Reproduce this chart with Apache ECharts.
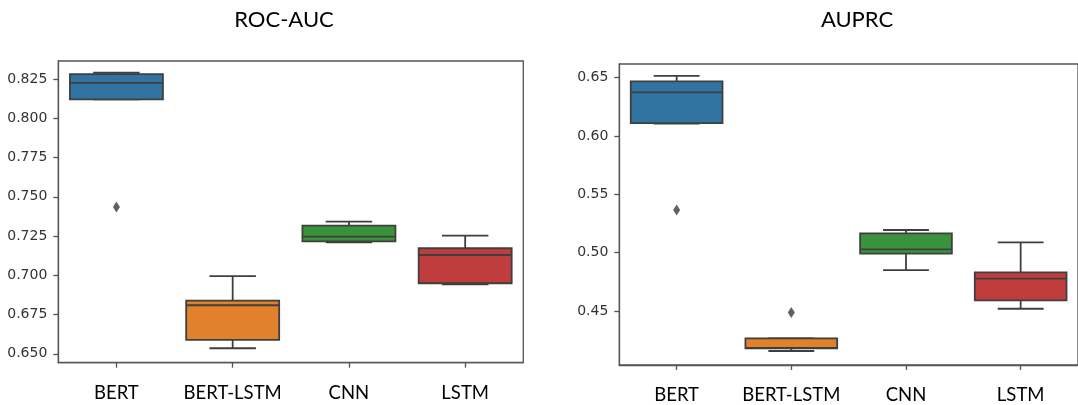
<!DOCTYPE html>
<html>
<head>
<meta charset="utf-8">
<script src="https://cdn.jsdelivr.net/npm/echarts@6/dist/echarts.min.js"></script>
<style>
html,body{margin:0;padding:0;background:#fff;}
#chart{width:1078px;height:405px;}
</style>
</head>
<body>
<div id="chart"></div>
<script>
// ---- data ----
const categories = ['BERT', 'BERT-LSTM', 'CNN', 'LSTM'];
// [min, Q1, median, Q3, max]
const rocAucBERT = [0.8121, 0.8121, 0.8226, 0.8282, 0.8290];
const rocAucBERTLSTM = [0.6535, 0.6588, 0.6809, 0.6838, 0.6995];
const rocAucCNN = [0.7210, 0.7216, 0.7246, 0.7316, 0.7342];
const rocAucLSTM = [0.6942, 0.6949, 0.7129, 0.7172, 0.7252];
const rocAucOutliers = [['BERT', 0.7435]];
const auprcBERT = [0.6105, 0.6110, 0.6373, 0.6467, 0.6515];
const auprcBERTLSTM = [0.4156, 0.4178, 0.4183, 0.4265, 0.4265];
const auprcCNN = [0.4850, 0.4990, 0.5027, 0.5165, 0.5193];
const auprcLSTM = [0.4518, 0.4590, 0.4776, 0.4830, 0.5087];
const auprcOutliers = [['BERT', 0.5364], ['BERT-LSTM', 0.4487]];
const rocAucTicks = [0.650, 0.675, 0.700, 0.725, 0.750, 0.775, 0.800, 0.825];
const auprcTicks = [0.45, 0.50, 0.55, 0.60, 0.65];
const titles = ['ROC-AUC', 'AUPRC'];
const boxColors = ['#3274a1', '#e1812c', '#3a923a', '#c03d3e'];

const rocAucStats = [rocAucBERT, rocAucBERTLSTM, rocAucCNN, rocAucLSTM];
const auprcStats = [auprcBERT, auprcBERTLSTM, auprcCNN, auprcLSTM];

const edge = '#3f3f3f';
const lw = 1.8;

function toRows(stats) {
  return stats.map((s, i) => [i].concat(s));
}

function renderBox(params, api) {
  const ci = api.value(0);
  const mn = api.value(1), q1 = api.value(2), md = api.value(3), q3 = api.value(4), mx = api.value(5);
  const band = api.size([1, 0])[0];
  const bw = band * 0.8, cw = bw / 2;
  const pMin = api.coord([ci, mn]);
  const pQ1 = api.coord([ci, q1]);
  const pMd = api.coord([ci, md]);
  const pQ3 = api.coord([ci, q3]);
  const pMax = api.coord([ci, mx]);
  const x = pMin[0];
  const st = { stroke: edge, lineWidth: lw, fill: null };
  return {
    type: 'group',
    children: [
      { type: 'line', shape: { x1: x, y1: pQ3[1], x2: x, y2: pMax[1] }, style: st },
      { type: 'line', shape: { x1: x, y1: pQ1[1], x2: x, y2: pMin[1] }, style: st },
      { type: 'line', shape: { x1: x - cw / 2, y1: pMax[1], x2: x + cw / 2, y2: pMax[1] }, style: st },
      { type: 'line', shape: { x1: x - cw / 2, y1: pMin[1], x2: x + cw / 2, y2: pMin[1] }, style: st },
      { type: 'rect', shape: { x: x - bw / 2, y: pQ3[1], width: bw, height: pQ1[1] - pQ3[1] },
        style: { fill: boxColors[ci], stroke: edge, lineWidth: lw } },
      { type: 'line', shape: { x1: x - bw / 2, y1: pMd[1], x2: x + bw / 2, y2: pMd[1] }, style: st }
    ]
  };
}

const chart = echarts.init(document.getElementById('chart'), null, { renderer: 'canvas' });

function yAxisCfg(idx, min, max, ticks, digits) {
  return {
    type: 'value', gridIndex: idx, min: min, max: max, scale: true,
    splitLine: { show: false },
    axisLine: { show: true, lineStyle: { color: '#555', width: 1.3 } },
    axisTick: { show: true, length: 5, lineStyle: { color: '#555', width: 1.3 }, customValues: ticks },
    axisLabel: {
      show: true, margin: 11, color: '#333', fontSize: 14, fontFamily: 'DejaVu Sans',
      customValues: ticks, formatter: v => v.toFixed(digits)
    }
  };
}
function xAxisCfg(idx) {
  return {
    type: 'category', gridIndex: idx, data: categories, boundaryGap: true,
    axisLine: { show: true, lineStyle: { color: '#555', width: 1.3 } },
    axisTick: { show: true, alignWithLabel: true, length: 5, lineStyle: { color: '#555', width: 1.3 } },
    axisLabel: { interval: 0, margin: 21, color: '#000', fontSize: 18.5, fontFamily: 'Lato' },
    splitLine: { show: false }
  };
}

chart.setOption({
  animation: false,
  backgroundColor: '#fff',
  title: [
    { text: titles[0], left: 279, top: 4, textAlign: 'center',
      textStyle: { fontFamily: 'Lato', fontSize: 22, fontWeight: 'normal', color: '#000' } },
    { text: titles[1], left: 852, top: 4, textAlign: 'center',
      textStyle: { fontFamily: 'Lato', fontSize: 22, fontWeight: 'normal', color: '#000' } }
  ],
  grid: [
    { left: 58.3, top: 61, width: 465, height: 301.7, show: true, borderColor: '#555', borderWidth: 1.3, backgroundColor: '#fff' },
    { left: 619.3, top: 64, width: 465, height: 301, show: true, borderColor: '#555', borderWidth: 1.3, backgroundColor: '#fff' }
  ],
  xAxis: [xAxisCfg(0), xAxisCfg(1)],
  yAxis: [
    yAxisCfg(0, 0.6443, 0.8365, rocAucTicks, 3),
    yAxisCfg(1, 0.4036, 0.6616, auprcTicks, 2)
  ],
  series: [
    { type: 'custom', xAxisIndex: 0, yAxisIndex: 0, renderItem: renderBox,
      encode: { x: 0, y: [1, 2, 3, 4, 5] }, data: toRows(rocAucStats), z: 2 },
    { type: 'custom', xAxisIndex: 1, yAxisIndex: 1, renderItem: renderBox,
      encode: { x: 0, y: [1, 2, 3, 4, 5] }, data: toRows(auprcStats), z: 2 },
    { type: 'scatter', xAxisIndex: 0, yAxisIndex: 0, symbol: 'diamond', symbolSize: [7, 11],
      itemStyle: { color: '#3a3a3a' }, data: rocAucOutliers, z: 3 },
    { type: 'scatter', xAxisIndex: 1, yAxisIndex: 1, symbol: 'diamond', symbolSize: [7, 11],
      itemStyle: { color: '#3a3a3a' }, data: auprcOutliers, z: 3 }
  ]
});
</script>
</body>
</html>
